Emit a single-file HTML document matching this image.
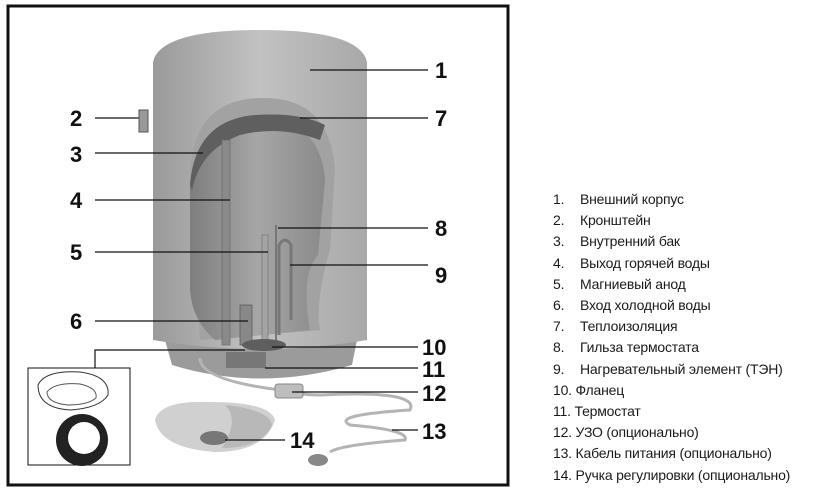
<!DOCTYPE html>
<html><head><meta charset="utf-8"><style>
html,body{margin:0;padding:0;background:#fff;width:839px;height:493px;overflow:hidden}
.lg{position:absolute;left:553px;font:14px "Liberation Sans","DejaVu Sans",sans-serif;color:#1a1a1a;line-height:21.2px;top:189px;white-space:nowrap;letter-spacing:-0.2px}
.lg span{display:inline-block;width:27px}
</style></head><body>
<svg width="839" height="493" style="position:absolute;left:0;top:0">
<defs>
<linearGradient id="g1" x1="0" x2="1"><stop offset="0" stop-color="#9a9a9a"/><stop offset="0.5" stop-color="#c2c2c2"/><stop offset="1" stop-color="#a8a8a8"/></linearGradient>
<linearGradient id="g2" x1="0" x2="1"><stop offset="0" stop-color="#7e7e7e"/><stop offset="0.5" stop-color="#a6a6a6"/><stop offset="1" stop-color="#8a8a8a"/></linearGradient>
</defs>
<rect x="8" y="6" width="500" height="479" fill="none" stroke="#111" stroke-width="3"/>
<path d="M165 340 L357 340 L352 365 Q260 392 172 365 Z" fill="#9b9b9b"/>
<path d="M153 62 Q160 30 260 30 Q360 30 367 62 L367 340 Q260 358 153 340 Z" fill="url(#g1)"/>
<path d="M190 180 Q190 100 260 98 Q330 96 335 170 L330 250 Q315 300 320 330 L200 340 Z" fill="#a2a2a2"/>
<path d="M190 185 Q195 125 250 118 Q320 115 325 180 L318 255 Q300 275 310 330 L215 340 Q192 320 190 290 Z" fill="url(#g2)"/>
<path d="M190 185 Q195 120 255 115 Q300 112 325 125 L320 140 Q280 125 240 135 Q200 150 192 190 Z" fill="#5f5f5f"/>
<rect x="222" y="140" width="8" height="205" fill="#8a8a8a" stroke="#6a6a6a" stroke-width="0.7"/>
<rect x="262" y="235" width="6" height="110" fill="#a4a4a4" stroke="#777" stroke-width="0.7"/>
<rect x="240" y="305" width="12" height="40" fill="#888" stroke="#555" stroke-width="0.7"/>
<path d="M276 225 L276 340" stroke="#777" stroke-width="2"/>
<path d="M279 335 L279 245 Q285 235 291 245 L291 320" fill="none" stroke="#777" stroke-width="3"/>
<ellipse cx="264" cy="345" rx="22" ry="6" fill="#5e5e5e"/>
<rect x="226" y="352" width="40" height="16" fill="#777"/>
<path d="M200 358 Q200 380 280 390 Q300 395 320 395 Q420 390 410 410 Q330 415 350 425 Q410 430 405 440 Q340 445 330 452" fill="none" stroke="#b4b4b4" stroke-width="3"/>
<rect x="275" y="384" width="28" height="14" rx="3" fill="#bdbdbd" stroke="#888"/>
<ellipse cx="318" cy="460" rx="10" ry="6" fill="#888"/>
<path d="M155 420 Q160 400 210 402 Q270 402 275 420 Q265 452 215 452 Q160 448 155 420 Z" fill="#d0d0d0"/>
<path d="M225 405 Q270 410 272 425 Q262 448 222 448 Q240 420 225 405 Z" fill="#b8b8b8"/>
<ellipse cx="214" cy="438" rx="14" ry="7" fill="#777"/>
<rect x="28" y="368" width="102" height="97" fill="#fff" stroke="#111" stroke-width="1"/>
<path d="M95 368 V350 H245" fill="none" stroke="#111" stroke-width="1.2"/>
<path d="M38 385 Q45 370 80 372 Q110 376 108 395 Q100 408 70 410 Q38 408 38 385Z" fill="none" stroke="#333"/>
<path d="M47 392 Q55 382 80 384 Q98 388 96 398 Q88 405 68 405 Q47 403 47 392Z" fill="none" stroke="#555"/>
<circle cx="82" cy="440" r="26" fill="#222"/><circle cx="84" cy="438" r="16" fill="#fff"/>
<g stroke="#111" stroke-width="1.2">
<line x1="310" y1="70" x2="428" y2="70"/><line x1="300" y1="118" x2="428" y2="118"/>
<line x1="278" y1="228" x2="428" y2="228"/><line x1="290" y1="265" x2="428" y2="265"/>
<line x1="272" y1="347" x2="418" y2="347"/><line x1="265" y1="368" x2="418" y2="368"/>
<line x1="292" y1="392" x2="418" y2="392"/><line x1="392" y1="430" x2="418" y2="430"/>
<line x1="225" y1="440" x2="285" y2="440"/>
<line x1="95" y1="118" x2="140" y2="118"/><line x1="95" y1="153" x2="203" y2="153"/>
<line x1="95" y1="200" x2="230" y2="200"/><line x1="95" y1="252" x2="268" y2="252"/>
<line x1="95" y1="321" x2="248" y2="321"/>
</g>
<rect x="139" y="110" width="9" height="22" fill="#999" stroke="#555"/>
<g font-family="Liberation Sans, sans-serif" font-weight="bold" font-size="22" fill="#111">
<text x="435" y="78">1</text><text x="435" y="126">7</text><text x="435" y="236">8</text>
<text x="435" y="283">9</text><text x="422" y="355">10</text><text x="422" y="377">11</text>
<text x="422" y="401">12</text><text x="422" y="439">13</text><text x="290" y="448">14</text>
<text x="70" y="126">2</text><text x="70" y="162">3</text><text x="70" y="208">4</text>
<text x="70" y="260">5</text><text x="70" y="329">6</text>
</g>
</svg>
<div class="lg">
<div><span>1.</span>Внешний корпус</div>
<div><span>2.</span>Кронштейн</div>
<div><span>3.</span>Внутренний бак</div>
<div><span>4.</span>Выход горячей воды</div>
<div><span>5.</span>Магниевый анод</div>
<div><span>6.</span>Вход холодной воды</div>
<div><span>7.</span>Теплоизоляция</div>
<div><span>8.</span>Гильза термостата</div>
<div><span>9.</span>Нагревательный элемент (ТЭН)</div>
<div>10. Фланец</div>
<div>11. Термостат</div>
<div>12. УЗО (опционально)</div>
<div>13. Кабель питания (опционально)</div>
<div>14. Ручка регулировки (опционально)</div>
</div>
</body></html>
